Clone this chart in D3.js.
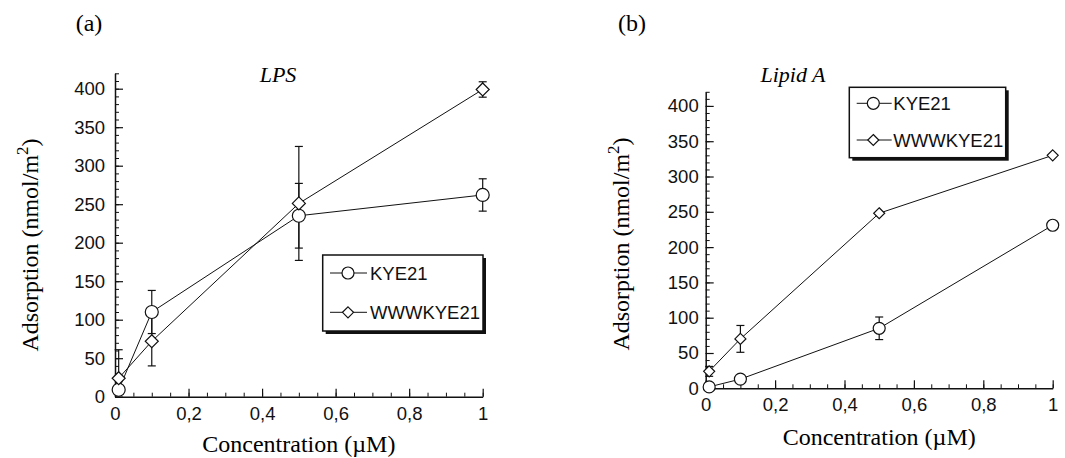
<!DOCTYPE html>
<html>
<head>
<meta charset="utf-8">
<script src="https://cdn.jsdelivr.net/npm/d3@7"></script>
<style>
  body { margin: 0; background: #fff; }
  svg { display: block; }
  .tick text { font-family: "Liberation Sans", Arial, sans-serif; fill: #111; }
  .domain, .tick line { stroke: #111; }
</style>
</head>
<body>
<svg id="chart" width="1065" height="458"></svg>
<script>
// concentrations (µM)
const conc = [0.01, 0.1, 0.5, 1];
const seriesNames = ["KYE21", "WWWKYE21"];

// panel (a) LPS
const lpsKye = [9, 110, 235, 262];
const lpsKyeErr = [0, 28, 42, 21];
const lpsWww = [24, 72, 251, 399];
const lpsWwwErr = [37, 32, 74, 10];

// panel (b) Lipid A
const lipidKye = [2, 13, 85, 231];
const lipidKyeErr = [0, 0, 16, 0];
const lipidWww = [24, 70, 248, 330];
const lipidWwwErr = [7, 19, 0, 0];

const yTicks = [0, 50, 100, 150, 200, 250, 300, 350, 400];
const xTicks = [0, 0.2, 0.4, 0.6, 0.8, 1];

const svg = d3.select("#chart");

drawPanel({
  tag: "(a)", tagX: 89, title: "LPS", titleX: 278,
  x0: 115, x1: 482.7, yBase: 396.7, yTop: 73.3,
  tickFont: 18.5, labelPad: 10, xLabelY: 452, yLabelX: 38, yLabelY: 245,
  r: 6.5, d: 6.5,
  kye: lpsKye, kyeErr: lpsKyeErr, www: lpsWww, wwwErr: lpsWwwErr,
  legend: { x: 322.7, y: 255, w: 160.3, h: 76, rows: [273, 312.3], lx0: 330, lx1: 367, mx: 348, tx: 370 }
});

drawPanel({
  tag: "(b)", tagX: 632, title: "Lipid A", titleX: 793,
  x0: 705.7, x1: 1052.7, yBase: 388.3, yTop: 91.8,
  tickFont: 18.5, labelPad: 7, xLabelY: 445, yLabelX: 629, yLabelY: 244,
  r: 6, d: 5.5,
  kye: lipidKye, kyeErr: lipidKyeErr, www: lipidWww, wwwErr: lipidWwwErr,
  legend: { x: 849.3, y: 87.3, w: 156.4, h: 70.4, rows: [103.3, 140], lx0: 856.7, lx1: 891.7, mx: 873.3, tx: 893.3 }
});

function drawPanel(p) {
  const x = d3.scaleLinear().domain([0, 1]).range([p.x0, p.x1]);
  const y = d3.scaleLinear().domain([0, 420]).range([p.yBase, p.yTop]);
  const g = svg.append("g");

  // minor ticks
  g.append("g")
    .attr("transform", `translate(0,${p.yBase})`)
    .call(d3.axisBottom(x).tickValues(d3.range(0, 1.0001, 0.05)).tickSize(-4).tickFormat(""))
    .call(s => s.select(".domain").remove());
  g.append("g")
    .attr("transform", `translate(${p.x0},0)`)
    .call(d3.axisLeft(y).tickValues(d3.range(0, 421, 10)).tickSize(-4).tickFormat(""))
    .call(s => s.select(".domain").remove());

  // major axes
  const xa = g.append("g")
    .attr("transform", `translate(0,${p.yBase})`)
    .call(d3.axisBottom(x).tickValues(xTicks).tickSize(-8).tickSizeOuter(0).tickPadding(10)
      .tickFormat(d => d === 0 || d === 1 ? d3.format("d")(d) : d3.format(".1f")(d).replace(".", ",")));
  const ya = g.append("g")
    .attr("transform", `translate(${p.x0},0)`)
    .call(d3.axisLeft(y).tickValues(yTicks).tickSize(-8).tickSizeOuter(0).tickPadding(p.labelPad));
  [xa, ya].forEach(a => {
    a.selectAll(".tick text").style("font-size", p.tickFont + "px");
    a.select(".domain").attr("stroke-width", 1.5);
    a.selectAll(".tick line").attr("stroke-width", 1.2);
  });

  // texts
  g.append("text").attr("x", p.tagX).attr("y", 31).attr("text-anchor", "middle")
    .style("font-family", "Liberation Serif, Times New Roman, serif").style("font-size", "24px")
    .text(p.tag);
  g.append("text").attr("x", p.titleX).attr("y", 82).attr("text-anchor", "middle")
    .style("font-family", "Liberation Serif, Times New Roman, serif").style("font-size", "22px")
    .style("font-style", "italic").text(p.title);
  g.append("text").attr("x", (p.x0 + p.x1) / 2).attr("y", p.xLabelY).attr("text-anchor", "middle")
    .style("font-family", "Liberation Serif, Times New Roman, serif").style("font-size", "24px")
    .text("Concentration (\u00b5M)");
  const yl = g.append("text")
    .attr("text-anchor", "middle")
    .attr("transform", `translate(${p.yLabelX},${p.yLabelY}) rotate(-90)`)
    .style("font-family", "Liberation Serif, Times New Roman, serif").style("font-size", "24px");
  yl.append("tspan").text("Adsorption (nmol/m");
  yl.append("tspan").attr("dy", -10).style("font-size", "17px").text("2");
  yl.append("tspan").attr("dy", 10).text(")");

  const line = d3.line().x(d => x(d[0])).y(d => y(d[1]));
  const sets = [
    { vals: p.kye, err: p.kyeErr, shape: "circle" },
    { vals: p.www, err: p.wwwErr, shape: "diamond" }
  ];

  sets.forEach(s => {
    const pts = conc.map((c, i) => [c, s.vals[i], s.err[i]]);
    g.append("path").datum(pts).attr("fill", "none").attr("stroke", "#111")
      .attr("stroke-width", 1).attr("d", line);

    const eb = g.append("g").selectAll("g").data(pts.filter(d => d[2] > 0)).join("g")
      .attr("stroke", "#111").attr("stroke-width", 1.2);
    const lo = d => Math.max(0, d[1] - d[2]);
    eb.append("line").attr("x1", d => x(d[0])).attr("x2", d => x(d[0]))
      .attr("y1", d => y(lo(d))).attr("y2", d => y(d[1] + d[2]));
    eb.append("line").attr("x1", d => x(d[0]) - 4).attr("x2", d => x(d[0]) + 4)
      .attr("y1", d => y(d[1] + d[2])).attr("y2", d => y(d[1] + d[2]));
    eb.filter(d => d[1] - d[2] > 0).append("line")
      .attr("x1", d => x(d[0]) - 4).attr("x2", d => x(d[0]) + 4)
      .attr("y1", d => y(lo(d))).attr("y2", d => y(lo(d)));
  });

  sets.forEach(s => {
    const pts = conc.map((c, i) => [c, s.vals[i]]);
    drawMarkers(g, pts.map(d => [x(d[0]), y(d[1])]), s.shape, s.shape === "circle" ? p.r : p.d);
  });

  // legend
  const L = p.legend;
  g.append("rect").attr("x", L.x + 3).attr("y", L.y + 3).attr("width", L.w).attr("height", L.h)
    .attr("fill", "#111");
  g.append("rect").attr("x", L.x).attr("y", L.y).attr("width", L.w).attr("height", L.h)
    .attr("fill", "#fff").attr("stroke", "#111").attr("stroke-width", 1.5);
  seriesNames.forEach((name, i) => {
    const ry = L.rows[i];
    g.append("line").attr("x1", L.lx0).attr("x2", L.lx1).attr("y1", ry).attr("y2", ry)
      .attr("stroke", "#111").attr("stroke-width", 1);
    drawMarkers(g, [[L.mx, ry]], i === 0 ? "circle" : "diamond", i === 0 ? 6 : 5.5);
    g.append("text").attr("x", L.tx).attr("y", ry + 6.5)
      .style("font-family", "Liberation Sans, Arial, sans-serif").style("font-size", "18.5px")
      .attr("fill", "#111").text(name);
  });
}

function drawMarkers(g, pts, shape, size) {
  if (shape === "circle") {
    g.append("g").selectAll("circle").data(pts).join("circle")
      .attr("cx", d => d[0]).attr("cy", d => d[1]).attr("r", size)
      .attr("fill", "#fff").attr("stroke", "#111").attr("stroke-width", 1.2);
  } else {
    g.append("g").selectAll("path").data(pts).join("path")
      .attr("d", d => `M${d[0]},${d[1] - size}L${d[0] + size},${d[1]}L${d[0]},${d[1] + size}L${d[0] - size},${d[1]}Z`)
      .attr("fill", "#fff").attr("stroke", "#111").attr("stroke-width", 1.2);
  }
}
</script>
</body>
</html>
